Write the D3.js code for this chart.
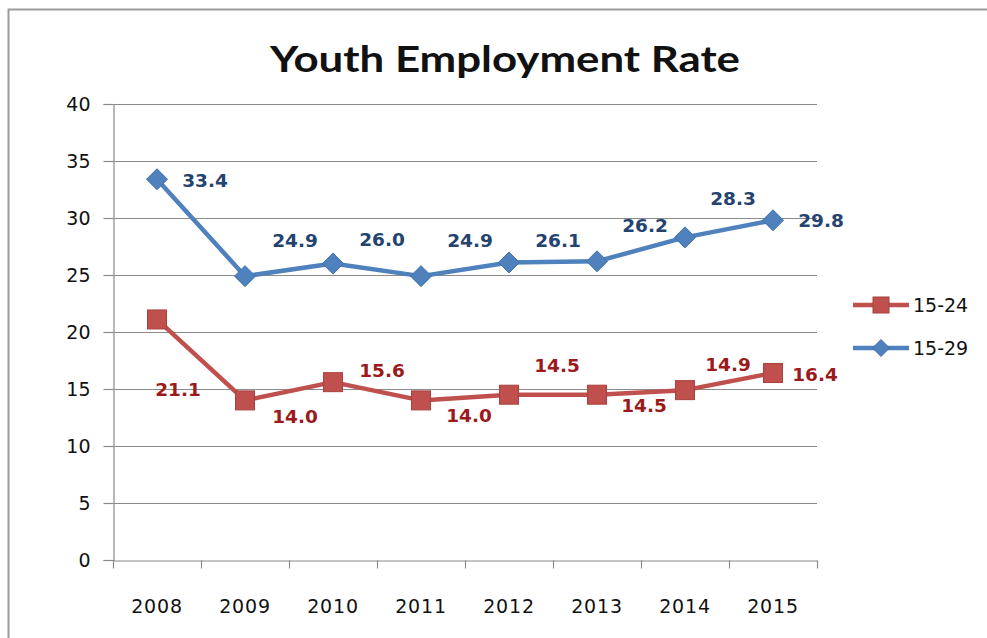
<!DOCTYPE html>
<html>
<head>
<meta charset="utf-8">
<script src="https://cdn.jsdelivr.net/npm/d3@7"></script>
<style>
  html, body { margin: 0; padding: 0; background: #fff; }
  svg { display: block; }
</style>
</head>
<body>
<svg id="chart" width="987" height="638"></svg>
<script>
// Youth employment rate by age group, 2008-2015
const years = ["2008", "2009", "2010", "2011", "2012", "2013", "2014", "2015"];
const rate15to24 = [21.1, 14.0, 15.6, 14.0, 14.5, 14.5, 14.9, 16.4];
const rate15to29 = [33.4, 24.9, 26.0, 24.9, 26.1, 26.2, 28.3, 29.8];
const yTicks = [0, 5, 10, 15, 20, 25, 30, 35, 40];
const seriesNames = ["15-24", "15-29"];

// Hand-placed label centre offsets (px) relative to each point
const offsets15to24 = [[21, 70], [50, 16], [49, -12], [48, 15], [48, -29], [47, 11], [43, -26], [42, 1]];
const offsets15to29 = [[48, 1], [50, -36], [49, -24], [49, -36], [49, -22], [48, -36], [48, -39], [48, 0]];

const svg = d3.select("#chart");
const W = 987, H = 638;

// outer chart frame
svg.append("rect")
  .attr("x", 8.5).attr("y", 9.5)
  .attr("width", W + 10).attr("height", H + 10)
  .attr("fill", "#fff").attr("stroke", "#9a9a9a").attr("stroke-width", 2);

const plot = { left: 113, right: 817, top: 104, bottom: 560 };

const x = d3.scaleBand().domain(years).range([plot.left, plot.right]);
const y = d3.scaleLinear().domain([0, 40]).range([plot.bottom, plot.top]);

// title
svg.append("text")
  .attr("x", 270).attr("y", 72)
  .attr("font-family", "Lato, 'Open Sans', sans-serif")
  .attr("font-weight", "bold")
  .attr("font-size", 37)
  .attr("textLength", 470)
  .attr("lengthAdjust", "spacingAndGlyphs")
  .attr("fill", "#111")
  .text("Youth Employment Rate");

// gridlines
svg.append("g")
  .selectAll("line")
  .data(yTicks.filter(d => d > 0))
  .join("line")
  .attr("x1", plot.left).attr("x2", plot.right)
  .attr("y1", d => Math.round(y(d)) + 0.5).attr("y2", d => Math.round(y(d)) + 0.5)
  .attr("stroke", "#8a8a8a").attr("stroke-width", 1.2);

// y axis
const yAxis = d3.axisLeft(y).tickValues(yTicks).tickSize(10).tickPadding(13);
const gy = svg.append("g").attr("transform", `translate(${plot.left + 0.5},0)`).call(yAxis);
gy.select(".domain").attr("stroke", "#8a8a8a").attr("stroke-width", 1.2);
gy.selectAll(".tick line").attr("stroke", "#8a8a8a").attr("stroke-width", 1.2);
gy.selectAll(".tick text")
  .attr("font-family", "'DejaVu Sans', sans-serif")
  .attr("font-size", 19)
  .attr("fill", "#111");

// x axis
const xAxis = d3.axisBottom(x).tickSize(0).tickPadding(39);
const gx = svg.append("g").attr("transform", `translate(0,${plot.bottom + 0.5})`).call(xAxis);
gx.select(".domain").attr("stroke", "#8a8a8a").attr("stroke-width", 1.2);
gx.selectAll(".tick text")
  .attr("font-family", "'DejaVu Sans', sans-serif")
  .attr("font-size", 19)
  .attr("letter-spacing", 0.8)
  .attr("fill", "#111");
// category boundary ticks
const boundaries = years.map(d => x(d)).concat([x(years[years.length - 1]) + x.bandwidth()]);
gx.selectAll(".bound")
  .data(boundaries)
  .join("line")
  .attr("class", "bound")
  .attr("x1", d => Math.round(d) + 0.5).attr("x2", d => Math.round(d) + 0.5)
  .attr("y1", 0).attr("y2", 8)
  .attr("stroke", "#8a8a8a").attr("stroke-width", 1.2);

const cx = d => x(d) + x.bandwidth() / 2;

const series = [
  { name: seriesNames[0], values: rate15to24, offs: offsets15to24, color: "#C0504D", edge: "#A8403D", labelColor: "#9C1A1C", marker: "square" },
  { name: seriesNames[1], values: rate15to29, offs: offsets15to29, color: "#4F81BD", edge: "#3F70AC", labelColor: "#24436F", marker: "diamond" }
];

const line = d3.line().x((d, i) => cx(years[i])).y(d => y(d));

function drawMarker(g, type, s, size) {
  if (type === "square") {
    const h = size / 2;
    g.append("rect").attr("x", -h).attr("y", -h).attr("width", size).attr("height", size)
      .attr("fill", s.color).attr("stroke", s.edge).attr("stroke-width", 1);
  } else {
    const h = size / 2;
    g.append("path").attr("d", `M0,${-h}L${h},0L0,${h}L${-h},0Z`)
      .attr("fill", s.color).attr("stroke", s.edge).attr("stroke-width", 1);
  }
}

series.forEach(s => {
  svg.append("path")
    .datum(s.values)
    .attr("d", line)
    .attr("fill", "none")
    .attr("stroke", s.color)
    .attr("stroke-width", 4.5)
    .attr("stroke-linejoin", "round");

  s.values.forEach((v, i) => {
    const g = svg.append("g").attr("transform", `translate(${cx(years[i])},${y(v)})`);
    drawMarker(g, s.marker, s, s.marker === "square" ? 19 : 21);
  });

  svg.append("g")
    .selectAll("text")
    .data(s.values)
    .join("text")
    .attr("x", (d, i) => cx(years[i]) + s.offs[i][0])
    .attr("y", (d, i) => y(d) + s.offs[i][1])
    .attr("dy", "0.36em")
    .attr("text-anchor", "middle")
    .attr("font-family", "'DejaVu Sans', sans-serif")
    .attr("font-weight", "bold")
    .attr("font-size", 18.5)
    .attr("fill", s.labelColor)
    .text(d => d.toFixed(1));
});

// legend
const legend = svg.append("g");
series.forEach((s, i) => {
  const ly = 305 + i * 43;
  const g = legend.append("g").attr("transform", `translate(853,${ly})`);
  g.append("line").attr("x1", 0).attr("x2", 56).attr("y1", 0).attr("y2", 0)
    .attr("stroke", s.color).attr("stroke-width", 4.5);
  const m = g.append("g").attr("transform", "translate(28,0)");
  drawMarker(m, s.marker, s, s.marker === "square" ? 16 : 17);
  g.append("text").attr("x", 60).attr("y", 0).attr("dy", "0.36em")
    .attr("font-family", "'DejaVu Sans', sans-serif")
    .attr("font-size", 19)
    .attr("fill", "#111")
    .text(s.name);
});
</script>
</body>
</html>
